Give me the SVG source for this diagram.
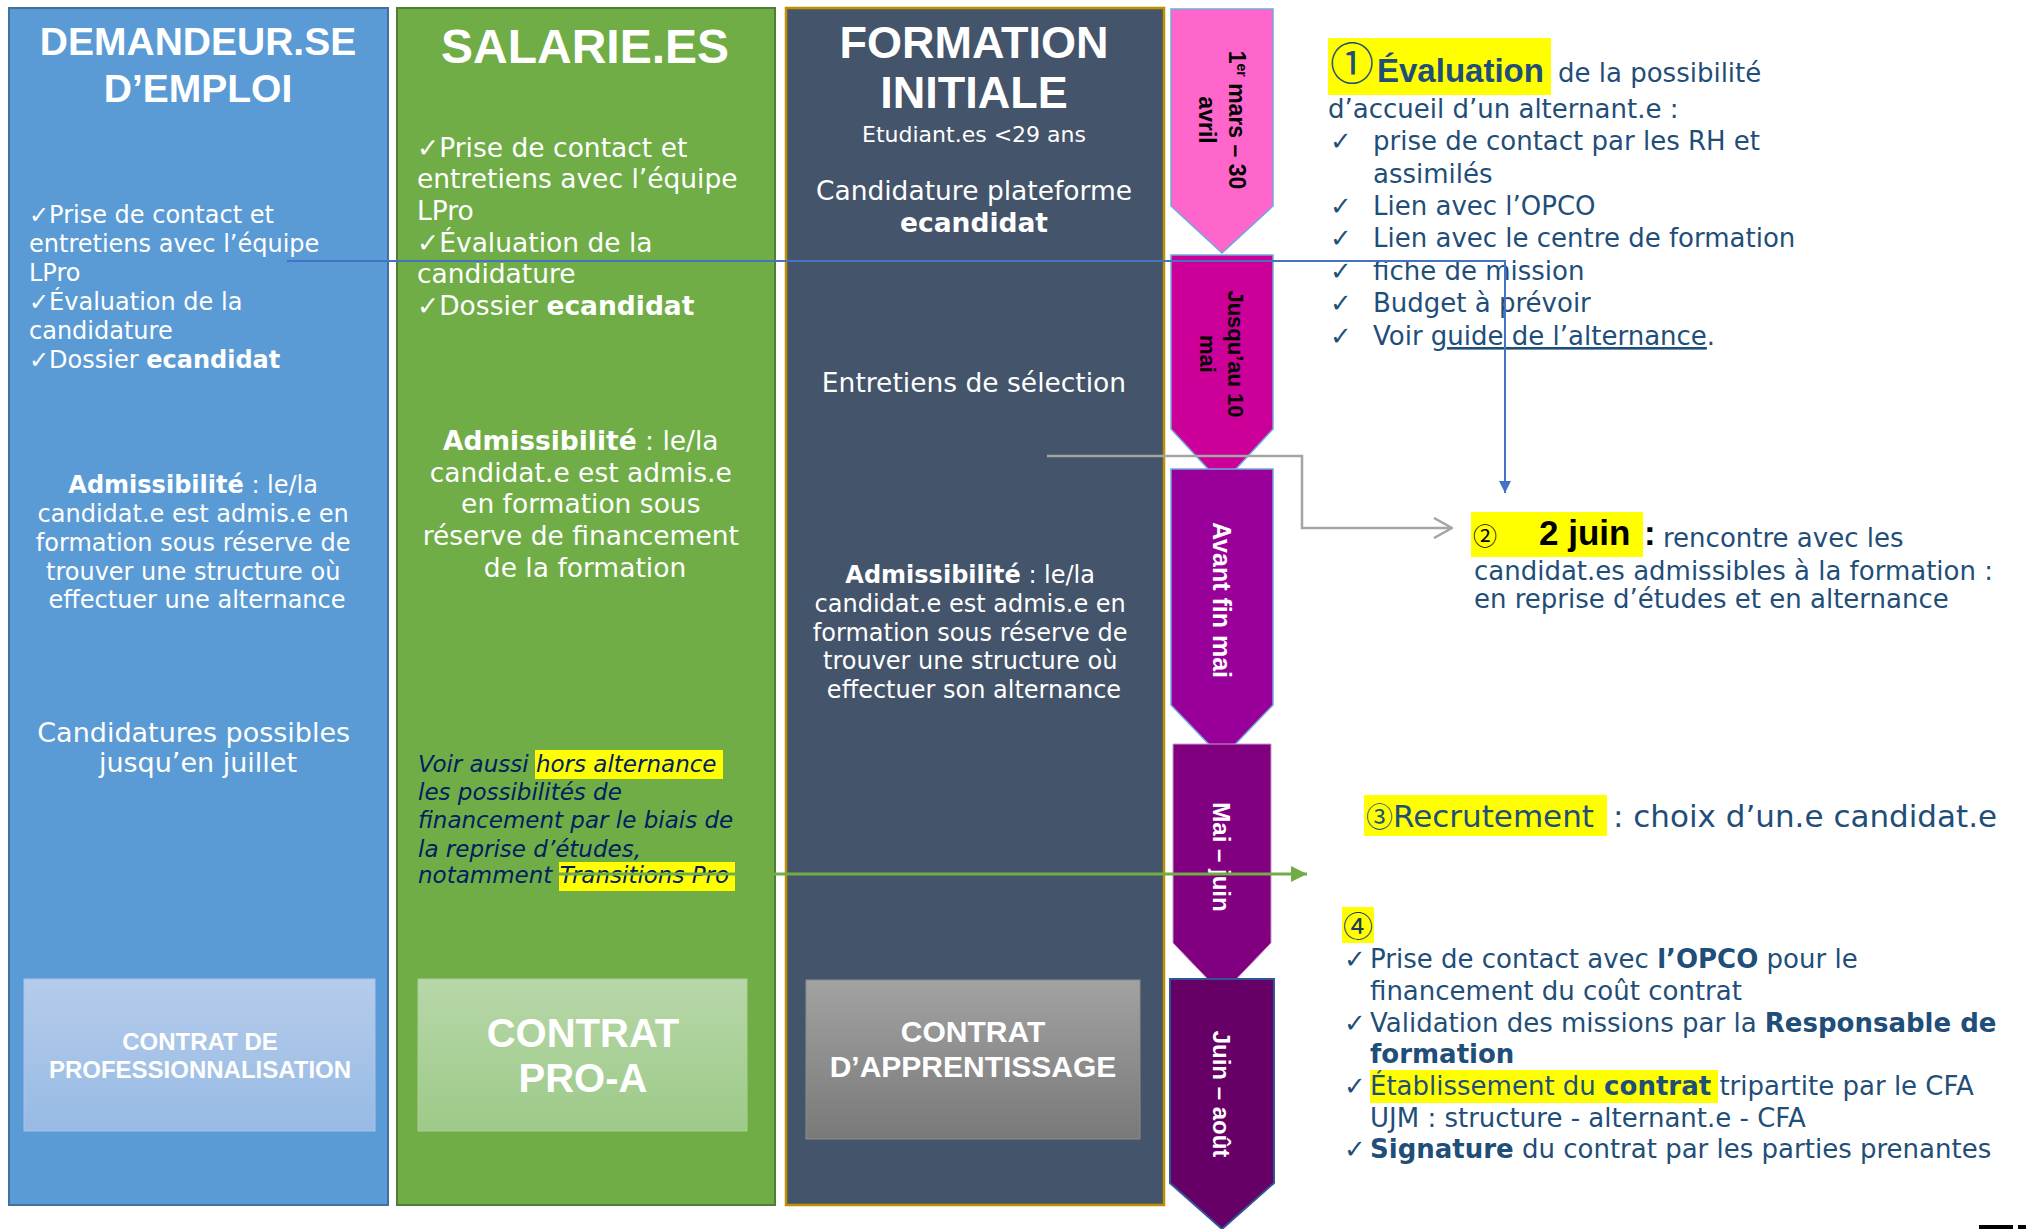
<svg xmlns="http://www.w3.org/2000/svg" width="2026" height="1229" viewBox="0 0 2026 1229">
<defs>
<style>
.hd{font-family:"Liberation Sans",Arial,sans-serif;font-weight:bold;fill:#fff;text-anchor:middle}
.wt{font-family:"DejaVu Sans",sans-serif;fill:#fff}
.c{text-anchor:middle}
.b{font-weight:bold}
.it{font-family:"DejaVu Sans",sans-serif;font-style:italic;fill:#002060;font-size:23px}
.rt{font-family:"DejaVu Sans",sans-serif;fill:#1F4E79}
.num{font-family:"Noto Sans CJK JP","DejaVu Sans",sans-serif}
.tl{font-family:"Liberation Sans",Arial,sans-serif;font-weight:bold;text-anchor:middle}
.hl{fill:#FFFF00}
.ct{font-family:"Liberation Sans",Arial,sans-serif;font-weight:bold;fill:#fff;text-anchor:middle}
</style>
<linearGradient id="gBlue" x1="0" y1="0" x2="0" y2="1"><stop offset="0" stop-color="#B5CCEB"/><stop offset="1" stop-color="#97BAE4"/></linearGradient>
<linearGradient id="gGreen" x1="0" y1="0" x2="0" y2="1"><stop offset="0" stop-color="#B7D7A9"/><stop offset="1" stop-color="#9DCA88"/></linearGradient>
<linearGradient id="gGray" x1="0" y1="0" x2="0" y2="1"><stop offset="0" stop-color="#A2A2A2"/><stop offset="1" stop-color="#797979"/></linearGradient>
<marker id="mBlue" viewBox="0 0 10 10" refX="10" refY="5" markerUnits="userSpaceOnUse" markerWidth="12" markerHeight="16" orient="auto"><path d="M0,0 L10,5 L0,10 Z" fill="#4472C4"/></marker>
<marker id="mGreen" viewBox="0 0 10 10" refX="10" refY="5" markerUnits="userSpaceOnUse" markerWidth="16" markerHeight="16" orient="auto"><path d="M0,0 L10,5 L0,10 Z" fill="#70AD47"/></marker>
<marker id="mGray" viewBox="0 0 20 22" refX="19" refY="11" markerUnits="userSpaceOnUse" markerWidth="20" markerHeight="22" orient="auto"><path d="M1,1 L19,11 L1,21" fill="none" stroke="#A5A5A5" stroke-width="2.5"/></marker>
</defs>
<rect width="2026" height="1229" fill="#fff"/>

<g id="col-demandeur">
<rect x="9" y="8" width="379" height="1197" fill="#5B9BD5" stroke="#41719C" stroke-width="2"/>
<text class="hd" font-size="39" x="198" y="55">DEMANDEUR.SE</text>
<text class="hd" font-size="39" x="198" y="102">D’EMPLOI</text>
<text class="wt" font-size="24">
<tspan x="29" y="223">✓Prise de contact et</tspan>
<tspan x="29" y="252">entretiens avec l’équipe</tspan>
<tspan x="29" y="281">LPro</tspan>
<tspan x="29" y="310">✓Évaluation de la</tspan>
<tspan x="29" y="339">candidature</tspan>
<tspan x="29" y="368">✓Dossier <tspan class="b">ecandidat</tspan></tspan>
</text>
<text class="wt c" font-size="24">
<tspan x="197" y="493"><tspan class="b">Admissibilité</tspan> : le/la</tspan>
<tspan x="197" y="522">candidat.e est admis.e en</tspan>
<tspan x="197" y="551">formation sous réserve de</tspan>
<tspan x="197" y="580">trouver une structure où</tspan>
<tspan x="197" y="608">effectuer une alternance</tspan>
</text>
<text class="wt c" font-size="27">
<tspan x="198" y="742">Candidatures possibles</tspan>
<tspan x="198" y="772">jusqu’en juillet</tspan>
</text>
<rect x="24" y="979" width="351" height="152" fill="url(#gBlue)" stroke="#A9C4EA" stroke-width="1"/>
<text class="ct" font-size="24"><tspan x="200" y="1050">CONTRAT DE</tspan><tspan x="200" y="1078">PROFESSIONNALISATION</tspan></text>
</g>

<g id="col-salarie">
<rect x="397" y="8" width="378" height="1197" fill="#70AD47" stroke="#507E32" stroke-width="2"/>
<text class="hd" font-size="48" x="585" y="63">SALARIE.ES</text>
<text class="wt" font-size="26.5">
<tspan x="417" y="157">✓Prise de contact et</tspan>
<tspan x="417" y="188">entretiens avec l’équipe</tspan>
<tspan x="417" y="220">LPro</tspan>
<tspan x="417" y="252">✓Évaluation de la</tspan>
<tspan x="417" y="283">candidature</tspan>
<tspan x="417" y="315">✓Dossier <tspan class="b">ecandidat</tspan></tspan>
</text>
<text class="wt c" font-size="26.5">
<tspan x="585" y="450"><tspan class="b">Admissibilité</tspan> : le/la</tspan>
<tspan x="585" y="482">candidat.e est admis.e</tspan>
<tspan x="585" y="513">en formation sous</tspan>
<tspan x="585" y="545">réserve de financement</tspan>
<tspan x="585" y="577">de la formation</tspan>
</text>
<rect class="hl" x="535" y="750" width="188" height="29"/>
<rect class="hl" x="559" y="862" width="176" height="29"/>
<text class="it">
<tspan x="418" y="772">Voir aussi hors alternance</tspan>
<tspan x="418" y="800">les possibilités de</tspan>
<tspan x="418" y="828">financement par le biais de</tspan>
<tspan x="418" y="857">la reprise d’études,</tspan>
<tspan x="418" y="883">notamment Transitions Pro</tspan>
</text>
<rect x="418" y="979" width="329" height="152" fill="url(#gGreen)" stroke="#A8D096" stroke-width="1"/>
<text class="ct" font-size="40"><tspan x="583" y="1047">CONTRAT</tspan><tspan x="583" y="1092">PRO-A</tspan></text>
</g>

<g id="col-formation">
<rect x="786" y="8" width="378" height="1197" fill="#44546A" stroke="#BF9000" stroke-width="2.5"/>
<text class="hd" font-size="45" x="974" y="58">FORMATION</text>
<text class="hd" font-size="45" x="974" y="108">INITIALE</text>
<text class="wt c" font-size="22" x="974" y="142">Etudiant.es &lt;29 ans</text>
<text class="wt c" font-size="26.5"><tspan x="974" y="200">Candidature plateforme</tspan><tspan class="b" x="974" y="232">ecandidat</tspan></text>
<text class="wt c" font-size="26.5" x="974" y="392">Entretiens de sélection</text>
<text class="wt c" font-size="24">
<tspan x="974" y="583"><tspan class="b">Admissibilité</tspan> : le/la</tspan>
<tspan x="974" y="612">candidat.e est admis.e en</tspan>
<tspan x="974" y="641">formation sous réserve de</tspan>
<tspan x="974" y="669">trouver une structure où</tspan>
<tspan x="974" y="698">effectuer son alternance</tspan>
</text>
<rect x="806" y="980" width="334" height="159" fill="url(#gGray)" stroke="#8C8C8C" stroke-width="1"/>
<text class="ct" font-size="30"><tspan x="973" y="1042">CONTRAT</tspan><tspan x="973" y="1077">D’APPRENTISSAGE</tspan></text>
</g>

<g id="timeline">
<g id="t1">
<path d="M1171,9 H1273 V206 L1222,253 L1171,206 Z" fill="#FF66CC" stroke="#6FA8DC" stroke-width="1.5"/>
<text class="tl" font-size="23" fill="#000" transform="translate(1222,120) rotate(90)"><tspan x="0" y="-7">1<tspan font-size="14" dy="-8">er</tspan><tspan dy="8"> mars – 30</tspan></tspan><tspan x="0" y="23">avril</tspan></text>
</g>
<g id="t2">
<path d="M1171,255 H1273 V429 L1222,484 L1171,429 Z" fill="#CC0099" stroke="#6FA8DC" stroke-width="1.5"/>
<text class="tl" font-size="22" fill="#000" transform="translate(1222,354) rotate(90)"><tspan x="0" y="-6">Jusqu’au 10</tspan><tspan x="0" y="22">mai</tspan></text>
</g>
<g id="t3">
<path d="M1171,469 H1273 V705 L1222,758 L1171,705 Z" fill="#990099" stroke="#6FA8DC" stroke-width="1.5"/>
<text class="tl" font-size="25" fill="#fff" transform="translate(1222,600) rotate(90)" x="0" y="9">Avant fin mai</text>
</g>
<g id="t4">
<path d="M1173,744 H1271 V943 L1222,994 L1173,943 Z" fill="#800080" stroke="#C79BC7" stroke-width="1"/>
<text class="tl" font-size="24" fill="#fff" transform="translate(1222,857) rotate(90)" x="0" y="9">Mai – juin</text>
</g>
<g id="t5">
<path d="M1170,979 H1274 V1183 L1222,1229 L1170,1183 Z" fill="#660066" stroke="#2F5597" stroke-width="2"/>
<text class="tl" font-size="24" fill="#fff" transform="translate(1222,1094) rotate(90)" x="0" y="9">Juin – août</text>
</g>
</g>

<g id="step1">
<rect class="hl" x="1328" y="38" width="223" height="57"/>
<text class="num" font-size="44" fill="#1F4E79" x="1330" y="80">①</text>
<text class="rt" font-size="26"><tspan font-family="Liberation Sans, Arial, sans-serif" font-weight="bold" font-size="33" x="1377" y="82">Évaluation</tspan><tspan x="1558" y="82">de la possibilité</tspan></text>
<text class="rt" font-size="26" x="1328" y="118">d’accueil d’un alternant.e :</text>
<text class="rt" font-size="26">
<tspan x="1330" y="150">✓</tspan><tspan x="1373" y="150">prise de contact par les RH et</tspan>
<tspan x="1373" y="183">assimilés</tspan>
<tspan x="1330" y="215">✓</tspan><tspan x="1373" y="215">Lien avec l’OPCO</tspan>
<tspan x="1330" y="247">✓</tspan><tspan x="1373" y="247">Lien avec le centre de formation</tspan>
<tspan x="1330" y="280">✓</tspan><tspan x="1373" y="280">fiche de mission</tspan>
<tspan x="1330" y="312">✓</tspan><tspan x="1373" y="312">Budget à prévoir</tspan>
<tspan x="1330" y="345">✓</tspan><tspan x="1373" y="345">Voir <tspan text-decoration="underline">guide de l’alternance</tspan>.</tspan>
</text>
</g>

<g id="step2">
<rect class="hl" x="1471" y="512" width="172" height="45"/>
<text class="num" font-size="24" fill="#000" x="1473" y="545">②</text>
<text font-family="Liberation Sans, Arial, sans-serif" font-weight="bold" font-size="35" fill="#000" x="1539" y="545">2 juin<tspan x="1644">:</tspan></text>
<text class="rt" font-size="26"><tspan x="1663" y="547">rencontre avec les</tspan>
<tspan x="1474" y="580">candidat.es admissibles à la formation :</tspan>
<tspan x="1474" y="608">en reprise d’études et en alternance</tspan></text>
</g>

<g id="step3">
<rect class="hl" x="1364" y="795" width="243" height="41"/>
<text class="num" font-size="27" fill="#1F4E79" x="1366" y="827">③</text>
<text class="rt" font-size="31" x="1393" y="827">Recrutement<tspan x="1613">: choix d’un.e candidat.e</tspan></text>
</g>

<g id="step4">
<rect class="hl" x="1342" y="907" width="32" height="36"/>
<text class="num" font-size="30" fill="#1F3864" x="1343" y="937">④</text>
<rect class="hl" x="1370" y="1070" width="348" height="33"/>
<text class="rt" font-size="26">
<tspan x="1344" y="968">✓</tspan><tspan x="1370" y="968">Prise de contact avec <tspan class="b">l’OPCO</tspan> pour le</tspan>
<tspan x="1370" y="1000">financement du coût contrat</tspan>
<tspan x="1344" y="1032">✓</tspan><tspan x="1370" y="1032">Validation des missions par la <tspan class="b">Responsable de</tspan></tspan>
<tspan x="1370" y="1063" class="b">formation</tspan>
<tspan x="1344" y="1095">✓</tspan><tspan x="1370" y="1095">Établissement du <tspan class="b">contrat</tspan> tripartite par le CFA</tspan>
<tspan x="1370" y="1127">UJM : structure - alternant.e - CFA</tspan>
<tspan x="1344" y="1158">✓</tspan><tspan x="1370" y="1158"><tspan class="b">Signature</tspan> du contrat par les parties prenantes</tspan>
</text>
</g>

<g id="connectors" fill="none">
<path d="M287,261 H1505 V493" stroke="#4472C4" stroke-width="2" marker-end="url(#mBlue)"/>
<path d="M1047,456 H1302 V528 H1452" stroke="#A5A5A5" stroke-width="2.5" marker-end="url(#mGray)"/>
<path d="M558,874 H1307" stroke="#70AD47" stroke-width="3" marker-end="url(#mGreen)"/>
</g>

<g id="corner-mark">
<rect x="1979" y="1225" width="34" height="4" fill="#000"/>
<rect x="2018" y="1225" width="8" height="4" fill="#000"/>
</g>
</svg>
